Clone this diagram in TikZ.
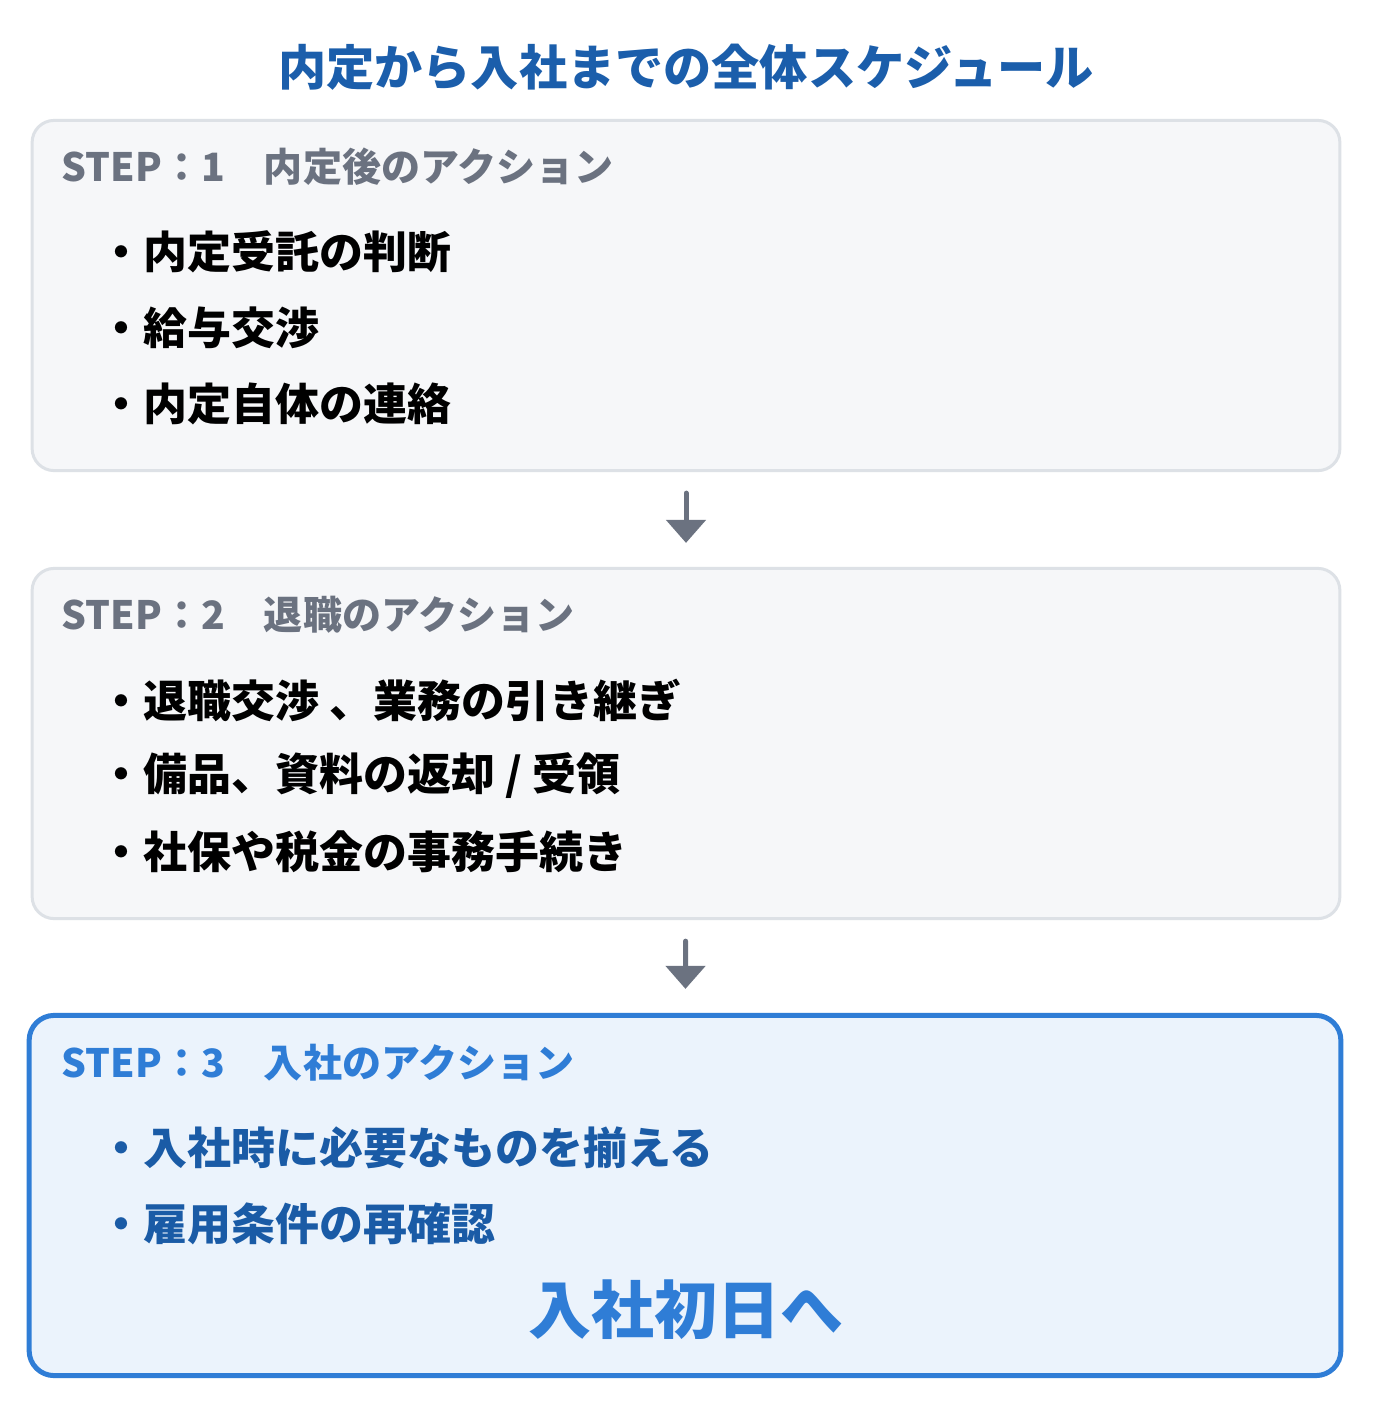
\documentclass[tikz,border=0pt]{standalone}
\usepackage{fontspec}
\newfontfamily\jpfont{Noto Sans CJK JP}
\usetikzlibrary{arrows.meta,positioning}
\definecolor{titleblue}{HTML}{1B5EAB}
\definecolor{headgray}{HTML}{6B7280}
\definecolor{boxgray}{HTML}{DDE1E6}
\definecolor{boxfill}{HTML}{F6F7F9}
\definecolor{lastblue}{HTML}{2F7DD6}
\definecolor{lastfill}{HTML}{EBF3FC}
\definecolor{itemblue}{HTML}{1A5BA6}
\tikzset{every picture/.style={
  >={Triangle[length=0.23cm,width=0.39cm]}  % plain triangle heads
  }
}
\tikzset{
  stepbox/.style={draw=boxgray, fill=boxfill, line width=0.03cm,
    rounded corners=0.22cm, minimum width=13.07cm, minimum height=3.5cm, inner sep=0},
  lastbox/.style={stepbox, draw=lastblue, fill=lastfill, line width=0.05cm,
    rounded corners=0.25cm, minimum width=13.11cm, minimum height=3.6cm},
  headtext/.style={anchor=west, inner sep=0, text=headgray,
    font=\jpfont\bfseries\fontsize{11.1pt}{13pt}\selectfont},
  itemtext/.style={anchor=west, inner sep=0,
    font=\jpfont\bfseries\fontsize{12.5pt}{14pt}\selectfont},
  flow/.style={->, draw=headgray, line width=0.05cm, line cap=round,
    shorten <=0.21cm, shorten >=0.24cm}
}
\begin{document}
\begin{tikzpicture}[x=0.01cm,y=-0.01cm]
  \useasboundingbox[fill=white] (0,0) rectangle (1372,1424);
  \node[font=\jpfont\bfseries\fontsize{13.7pt}{16pt}\selectfont, text=titleblue]
    (title) at (686,67) {内定から入社までの全体スケジュール};

  \node[stepbox] (step1) at (686,295.5) {};
  \node[headtext] (head1) at (61,167) {STEP：1　内定後のアクション};
  \node[itemtext] (item1a) at (99,252) {・内定受託の判断};
  \node[itemtext] (item1b) at (99,328) {・給与交渉};
  \node[itemtext] (item1c) at (99,404) {・内定自体の連絡};

  \node[stepbox] (step2) at (686,743.5) {};
  \node[headtext] (head2) at (61,615) {STEP：2　退職のアクション};
  \node[itemtext] (item2a) at (99,700) {・退職交渉 、業務の引き継ぎ};
  \node[itemtext] (item2b) at (99,776) {・備品、資料の返却 / 受領};
  \node[itemtext] (item2c) at (99,852) {・社保や税金の事務手続き};

  \node[lastbox] (step3) at (685,1195.5) {};
  \node[headtext, text=lastblue] (head3) at (61,1063) {STEP：3　入社のアクション};
  \node[itemtext, text=itemblue] (item3a) at (99,1148) {・入社時に必要なものを揃える};
  \node[itemtext, text=itemblue] (item3b) at (99,1224) {・雇用条件の再確認};
  \node[font=\jpfont\bfseries\fontsize{17.9pt}{20pt}\selectfont, text=lastblue]
    (firstday) at (686,1310) {入社初日へ};

  \draw[flow] (step1) -- (step2);
  \draw[flow] (step2) -- (step3);
\end{tikzpicture}
\end{document}
